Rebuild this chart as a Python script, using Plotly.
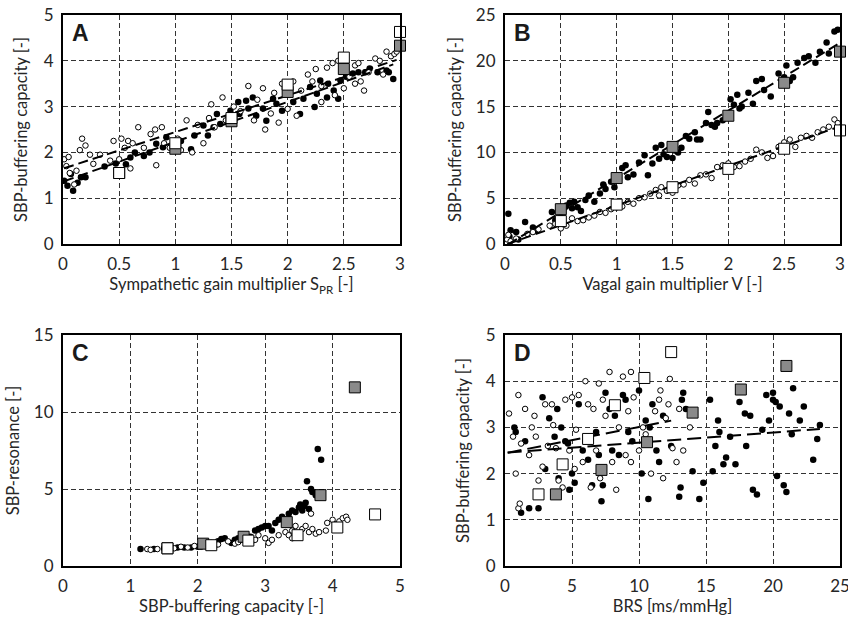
import numpy as np
import plotly.graph_objects as go

# ---- panel A: buffering capacity vs sympathetic gain ----
a_fill_x = [0.01, 0.04, 0.07, 0.09, 0.13, 0.16, 0.2, 0.37, 0.47, 0.56, 0.6, 0.64, 0.72, 0.77, 0.83, 0.89,
            0.92, 0.98, 1.05, 1.14, 1.17, 1.25, 1.29, 1.34, 1.37, 1.4, 1.49, 1.56, 1.57, 1.63, 1.65, 1.69,
            1.72, 1.78, 1.81, 1.87, 1.9, 1.95, 2.02, 2.05, 2.11, 2.14, 2.2, 2.24, 2.26, 2.29, 2.35, 2.36,
            2.41, 2.45, 2.47, 2.52, 2.58, 2.63, 2.69, 2.73, 2.8, 2.88, 2.9, 2.94]
a_fill_y = [1.38, 1.27, 1.53, 1.16, 1.34, 1.46, 1.46, 1.69, 1.76, 1.74, 1.89, 2.0, 1.92, 2.0, 2.19, 2.11,
            2.33, 2.07, 2.25, 2.07, 2.37, 2.59, 2.37, 2.55, 2.84, 2.62, 2.91, 3.1, 2.84, 3.13, 2.96, 3.2,
            2.8, 2.96, 2.69, 3.17, 3.06, 2.91, 3.31, 3.1, 2.84, 3.17, 3.43, 2.99, 3.28, 3.57, 3.2, 3.5,
            3.35, 3.17, 3.57, 3.65, 3.72, 3.75, 3.75, 3.83, 3.75, 3.79, 3.75, 3.6]
a_open_x = [0.01, 0.03, 0.05, 0.06, 0.1, 0.12, 0.15, 0.17, 0.2, 0.24, 0.27, 0.33, 0.42, 0.45, 0.5, 0.52,
            0.55, 0.58, 0.6, 0.62, 0.67, 0.72, 0.78, 0.82, 0.83, 0.88, 0.9, 0.95, 1.02, 1.05, 1.1, 1.15,
            1.2, 1.25, 1.3, 1.32, 1.35, 1.42, 1.45, 1.52, 1.58, 1.65, 1.7, 1.73, 1.78, 1.8, 1.85, 1.88,
            1.92, 1.95, 2.0, 2.05, 2.08, 2.12, 2.18, 2.22, 2.25, 2.3, 2.3, 2.35, 2.4, 2.42, 2.45, 2.5,
            2.55, 2.6, 2.6, 2.63, 2.65, 2.68, 2.72, 2.78, 2.82, 2.85, 2.88, 2.92, 2.95, 2.97]
a_open_y = [1.85, 1.7, 1.9, 1.55, 1.3, 1.6, 2.05, 2.3, 2.15, 1.95, 1.75, 1.95, 1.82, 2.25, 1.85, 2.3,
            2.1, 2.25, 1.65, 2.2, 2.55, 2.1, 2.4, 2.5, 1.72, 2.55, 2.2, 2.1, 2.3, 2.05, 2.7, 2.0,
            2.6, 2.2, 2.75, 3.05, 2.55, 3.2, 2.7, 3.0, 2.9, 3.45, 2.7, 3.15, 3.4, 2.5, 2.85, 3.3,
            2.65, 3.5, 2.95, 3.55, 2.8, 3.35, 3.7, 3.55, 3.82, 3.45, 3.1, 3.85, 3.95, 3.25, 4.0, 3.4,
            3.65, 3.5, 3.9, 3.95, 3.55, 3.35, 3.75, 4.05, 4.0, 3.7, 4.2, 4.1, 4.15, 4.2]
gain_levels = [0.5, 1.0, 1.5, 2.0, 2.5, 3.0]
a_sq_white = [1.55, 2.2, 2.75, 3.48, 4.07, 4.63]
a_sq_gray = [1.55, 2.08, 2.68, 3.32, 3.82, 4.33]

# ---- panel B: buffering capacity vs vagal gain ----
b_fill_x = [0.03, 0.05, 0.04, 0.1, 0.12, 0.18, 0.25, 0.28, 0.42, 0.45, 0.5, 0.55, 0.58, 0.6, 0.62, 0.65,
            0.68, 0.72, 0.75, 0.8, 0.85, 0.88, 0.9, 0.95, 0.98, 1.02, 1.05, 1.08, 1.1, 1.15, 1.2, 1.25,
            1.28, 1.32, 1.35, 1.38, 1.4, 1.42, 1.45, 1.5, 1.52, 1.55, 1.58, 1.62, 1.65, 1.7, 1.72, 1.75,
            1.8, 1.82, 1.85, 1.88, 1.9, 1.95, 1.98, 2.02, 2.05, 2.08, 2.1, 2.12, 2.18, 2.22, 2.25, 2.3,
            2.32, 2.38, 2.45, 2.5, 2.52, 2.55, 2.58, 2.62, 2.68, 2.72, 2.78, 2.82, 2.88, 2.9, 2.95, 2.98]
b_fill_y = [3.3, 1.5, 0.8, 1.3, 0.5, 2.4, 1.8, 1.5, 3.5, 2.6, 2.9, 4.2, 4.5, 3.9, 4.6, 4.0,
            3.6, 4.8, 5.3, 4.6, 5.5, 6.5, 6.0, 6.8, 6.2, 7.0, 8.3, 8.6, 7.3, 7.6, 8.9, 9.7,
            7.5, 8.8, 10.5, 9.3, 10.8, 9.8, 9.5, 9.4, 10.2, 10.0, 10.5, 11.8, 11.5, 12.2, 11.4, 11.4,
            13.2, 14.4, 13.0, 12.8, 13.2, 13.5, 14.0, 15.8, 15.2, 16.3, 14.8, 15.0, 16.5, 15.3, 17.8, 18.0,
            16.8, 16.1, 18.6, 18.2, 19.5, 17.8, 18.2, 19.8, 20.3, 20.5, 19.8, 21.0, 22.0, 20.8, 23.2, 23.4]
b_open_x = [0.02, 0.03, 0.05, 0.1, 0.2, 0.25, 0.3, 0.4, 0.45, 0.5, 0.55, 0.6, 0.65, 0.7, 0.75, 0.8,
            0.85, 0.9, 0.95, 1.0, 1.05, 1.1, 1.15, 1.2, 1.25, 1.3, 1.35, 1.38, 1.4, 1.45, 1.5, 1.55,
            1.6, 1.65, 1.7, 1.75, 1.8, 1.85, 1.9, 1.95, 2.0, 2.05, 2.1, 2.15, 2.2, 2.25, 2.3, 2.35,
            2.4, 2.45, 2.5, 2.55, 2.6, 2.65, 2.7, 2.75, 2.8, 2.85, 2.9, 2.95, 2.98]
b_open_y = [0.5, 1.0, 0.3, 0.6, 1.1, 1.3, 1.6, 2.0, 2.2, 1.7, 2.0, 2.8, 2.5, 2.6, 2.9, 3.1,
            3.5, 3.4, 3.8, 4.0, 4.1, 4.6, 4.4, 5.0, 5.1, 5.5, 5.9, 5.3, 6.2, 5.8, 5.6, 6.4,
            6.5, 7.0, 6.6, 7.5, 7.6, 7.2, 8.4, 8.6, 8.8, 8.4, 8.5, 9.0, 9.3, 10.3, 10.0, 9.4,
            9.6, 10.6, 11.1, 11.4, 10.6, 11.6, 11.8, 11.6, 12.2, 12.5, 12.8, 13.6, 13.2]
b_sq_white = [2.5, 4.3, 6.2, 8.2, 10.4, 12.4]
b_sq_gray = [3.8, 7.2, 10.6, 14.0, 17.6, 21.0]

# ---- panel C: resonance vs buffering capacity ----
c_fill_x = [1.15, 1.35, 1.5, 1.6, 1.7, 1.8, 1.9, 2.0, 2.1, 2.2, 2.3, 2.35, 2.4, 2.5, 2.55, 2.6,
            2.65, 2.7, 2.78, 2.85, 2.9, 2.95, 3.0, 3.05, 3.1, 3.15, 3.2, 3.25, 3.3, 3.35, 3.4, 3.45,
            3.5, 3.52, 3.55, 3.58, 3.6, 3.62, 3.65, 3.68, 3.7, 3.75, 3.78, 3.83]
c_fill_y = [1.1, 1.1, 1.15, 1.2, 1.2, 1.2, 1.2, 1.25, 1.35, 1.5, 1.6, 1.75, 1.8, 1.5, 1.7, 1.8,
            2.0, 2.0, 1.9, 2.3, 2.4, 2.5, 2.6, 2.6, 2.3, 2.8, 3.0, 3.2, 3.0, 3.4, 3.6, 3.5,
            3.8, 4.0, 3.6, 3.9, 4.1, 5.5, 3.7, 5.0, 4.8, 4.6, 7.6, 6.9]
c_open_x = [1.25, 1.3, 1.4, 1.55, 1.65, 1.75, 1.85, 1.95, 2.05, 2.15, 2.25, 2.3, 2.45, 2.55, 2.6, 2.65,
            2.75, 2.8, 2.85, 2.9, 3.0, 3.05, 3.1, 3.2, 3.3, 3.35, 3.4, 3.4, 3.45, 3.5, 3.55, 3.6,
            3.65, 3.68, 3.7, 3.75, 3.8, 3.9, 3.92, 4.0, 4.05, 4.1, 4.15, 4.2, 4.22]
c_open_y = [1.1, 1.05, 1.1, 1.2, 1.15, 1.25, 1.2, 1.3, 1.25, 1.4, 1.3, 1.4, 1.6, 1.45, 1.55, 1.7,
            1.8, 1.6, 1.7, 2.0, 1.8, 1.5, 1.7, 2.0, 2.2, 2.0, 2.3, 1.8, 2.6, 1.9, 2.4, 2.6,
            2.2, 3.4, 2.4, 2.1, 2.2, 2.3, 2.8, 3.0, 2.7, 2.9, 3.1, 3.2, 3.0]
c_sq_white_res = [1.15, 1.35, 1.65, 2.0, 2.5, 3.35]
c_sq_gray_res = [1.15, 1.45, 1.9, 2.85, 4.6, 11.6]

# ---- panel D: buffering capacity vs BRS ----
d_fill_x = [0.7, 0.8, 1.2, 1.5, 1.8, 2.5, 2.8, 3.0, 3.3, 3.7, 3.9, 4.0, 4.2, 4.5, 4.7, 4.8,
            5.0, 5.2, 5.5, 5.8, 6.0, 6.2, 6.5, 6.8, 7.0, 7.2, 7.3, 7.5, 7.8, 8.0, 8.2, 8.5,
            8.8, 9.0, 9.2, 9.5, 10.0, 10.2, 10.5, 10.7, 10.8, 11.0, 11.3, 11.5, 11.8, 12.4, 13.0, 13.1,
            13.2, 13.3, 13.5, 14.0, 14.5, 14.8, 15.3, 15.5, 15.7, 15.9, 16.0, 16.3, 16.5, 16.8, 17.2, 17.5,
            17.9, 18.0, 18.3, 18.5, 18.8, 19.2, 19.5, 19.7, 20.0, 20.0, 20.2, 20.3, 20.5, 20.8, 21.0, 21.2,
            21.4, 21.5, 22.0, 22.3, 23.0, 23.3, 23.5]
d_fill_y = [3.0, 2.9, 1.15, 2.7, 1.25, 1.25, 3.65, 2.1, 3.2, 2.8, 3.4, 1.9, 3.0, 2.7, 2.65, 1.65,
            2.0, 1.8, 3.5, 2.5, 2.7, 2.3, 1.75, 2.9, 2.4, 1.4, 1.75, 3.75, 3.4, 2.5, 3.25, 2.4,
            3.7, 3.6, 2.9, 2.7, 3.8, 2.0, 3.15, 1.45, 3.0, 3.5, 2.5, 2.25, 3.25, 2.6, 1.5, 1.7,
            3.6, 3.75, 3.4, 2.05, 1.45, 1.8, 3.6, 2.05, 2.6, 3.15, 2.9, 2.2, 2.35, 2.8, 2.2, 3.55,
            3.3, 2.6, 3.25, 1.65, 1.55, 2.95, 3.7, 3.15, 3.6, 3.75, 3.55, 1.95, 3.45, 1.75, 1.6, 3.3,
            2.85, 3.85, 3.15, 3.45, 2.3, 2.75, 3.05]
d_open_x = [0.3, 0.6, 0.8, 1.0, 1.0, 1.1, 1.2, 1.5, 1.8, 2.0, 2.2, 2.3, 2.5, 2.8, 3.0, 3.2,
            3.5, 3.6, 3.8, 4.0, 4.3, 4.5, 4.8, 5.0, 5.2, 5.3, 5.5, 5.8, 6.0, 6.2, 6.4, 6.6,
            6.8, 7.0, 7.1, 7.3, 7.5, 7.8, 8.0, 8.3, 8.5, 8.8, 9.0, 9.2, 9.4, 9.4, 9.6, 10.0,
            10.3, 10.5, 10.9, 11.2, 11.5, 11.6, 11.8, 12.0, 12.2, 12.3, 12.5, 12.8, 13.0, 13.3, 13.8]
d_open_y = [3.3, 2.8, 2.0, 3.7, 1.25, 1.35, 2.65, 3.4, 2.4, 3.0, 3.25, 2.8, 1.85, 2.15, 3.5, 2.6,
            3.5, 3.05, 2.55, 1.85, 1.7, 3.6, 2.5, 3.65, 2.1, 2.95, 3.7, 2.25, 4.0, 3.5, 1.7, 3.4,
            2.5, 3.95, 1.9, 3.6, 3.25, 4.2, 2.25, 1.65, 3.0, 4.1, 2.4, 3.35, 2.25, 4.2, 3.65, 2.5,
            3.0, 2.85, 2.0, 3.35, 3.6, 3.8, 1.9, 3.2, 3.5, 4.05, 2.55, 2.25, 3.4, 2.5, 3.0]
# regression lines in D: intercept, slope
d_fit_open = [2.44, 0.057]
d_fit_fill = [2.45, 0.022]

FONT = "Lato, 'Open Sans', sans-serif"
TXT = "#262626"
GRAY = "#8a8a8a"

W, H = 848, 621


def px_x(p):
    return p / W


def px_y(p):
    return 1 - p / H


fig = go.Figure()


def add_points(xs, ys, filled, ax):
    xa, ya = ax
    if filled:
        mk = dict(symbol="circle", size=6.5, color="black", line=dict(width=0))
    else:
        mk = dict(symbol="circle", size=5.5, color="white", line=dict(color="black", width=1))
    fig.add_trace(go.Scatter(x=xs, y=ys, mode="markers", marker=mk, xaxis=xa, yaxis=ya,
                             showlegend=False, hoverinfo="skip"))


def add_line(xx, yy, ax, dash):
    xa, ya = ax
    fig.add_trace(go.Scatter(x=xx, y=yy, mode="lines", xaxis=xa, yaxis=ya,
                             line=dict(color="black", width=2, dash=dash),
                             showlegend=False, hoverinfo="skip"))


def add_fit(xs, ys, ax, dash="10px,5px"):
    k, b = np.polyfit(xs, ys, 1)
    xx = np.array([min(xs), max(xs)])
    add_line(xx, k * xx + b, ax, dash)


def add_squares(xs, ys, color, ax):
    xa, ya = ax
    fig.add_trace(go.Scatter(x=xs, y=ys, mode="markers", xaxis=xa, yaxis=ya, cliponaxis=False,
                             marker=dict(symbol="square", size=11, color=color,
                                         line=dict(color="black", width=1)),
                             showlegend=False, hoverinfo="skip"))


AX = {"A": ("x", "y"), "B": ("x2", "y2"), "C": ("x3", "y3"), "D": ("x4", "y4")}

add_points(a_fill_x, a_fill_y, True, AX["A"])
add_points(a_open_x, a_open_y, False, AX["A"])
add_fit(a_open_x, a_open_y, AX["A"])
add_fit(a_fill_x, a_fill_y, AX["A"])
add_squares(gain_levels, a_sq_gray, GRAY, AX["A"])
add_squares(gain_levels, a_sq_white, "white", AX["A"])

add_points(b_fill_x, b_fill_y, True, AX["B"])
add_points(b_open_x, b_open_y, False, AX["B"])
add_fit(b_open_x, b_open_y, AX["B"])
add_fit(b_fill_x, b_fill_y, AX["B"])
add_squares(gain_levels, b_sq_gray, GRAY, AX["B"])
add_squares(gain_levels, b_sq_white, "white", AX["B"])

add_points(c_fill_x, c_fill_y, True, AX["C"])
add_points(c_open_x, c_open_y, False, AX["C"])
add_squares(a_sq_gray, c_sq_gray_res, GRAY, AX["C"])
add_squares(a_sq_white, c_sq_white_res, "white", AX["C"])

add_points(d_fill_x, d_fill_y, True, AX["D"])
add_points(d_open_x, d_open_y, False, AX["D"])
xo = np.array([0.2, max(d_open_x) - 1.4])
add_line(xo, d_fit_open[0] + d_fit_open[1] * xo, AX["D"], "14px,6px")
xf = np.array([0.2, max(d_fill_x)])
add_line(xf, d_fit_fill[0] + d_fit_fill[1] * xf, AX["D"], "14px,6px")
add_squares(b_sq_gray, a_sq_gray, GRAY, AX["D"])
add_squares(b_sq_white, a_sq_white, "white", AX["D"])


def axis(domain, rng, dtick, title, anchor, standoff):
    return dict(domain=domain, range=rng, dtick=dtick, anchor=anchor, automargin=False,
                showline=True, mirror=True, linecolor="black", linewidth=2,
                showgrid=True, gridcolor="#333333", gridwidth=1, griddash="5px,3px",
                zeroline=False, ticks="", ticklabelstandoff=4, ticklabeloverflow="allow",
                tickfont=dict(size=17, color=TXT, family=FONT),
                title=dict(text=title, font=dict(size=16.5, color=TXT, family=FONT), standoff=standoff))


xl = [px_x(63), px_x(400)]
xr = [px_x(505), px_x(840)]
yt = [px_y(244), px_y(15)]
yb = [px_y(566), px_y(335)]

fig.update_layout(
    width=W, height=H, margin=dict(l=0, r=0, t=0, b=0),
    paper_bgcolor="white", plot_bgcolor="white", font=dict(family=FONT, color=TXT),
    xaxis=axis(xl, [0, 3], 0.5, "Sympathetic gain multiplier S<sub>PR</sub> [-]", "y", 4),
    yaxis=axis(yt, [0, 5], 1, "SBP-buffering capacity [-]", "x", 12),
    xaxis2=axis(xr, [0, 3], 0.5, "Vagal gain multiplier V [-]", "y2", 4),
    yaxis2=axis(yt, [0, 25], 5, "SBP-buffering capacity [-]", "x2", 10),
    xaxis3=axis(xl, [0, 5], 1, "SBP-buffering capacity [-]", "y3", 4),
    yaxis3=axis(yb, [0, 15], 5, "SBP-resonance [-]", "x3", 10),
    xaxis4=axis(xr, [0, 25], 5, "BRS [ms/mmHg]", "y4", 4),
    yaxis4=axis(yb, [0, 5], 1, "SBP-buffering capacity [-]", "x4", 12),
)

for letter, (xa, ya) in AX.items():
    fig.add_annotation(text="<b>%s</b>" % letter, xref=xa + " domain", yref=ya + " domain",
                       x=0.02, y=0.985, xanchor="left", yanchor="top", showarrow=False,
                       font=dict(size=23, color="#1a1a1a", family="Arial, 'Liberation Sans', sans-serif"))

# drop the page's default body margin so the 848x621 figure fills the window
fig.write_html("out.html", config={"displayModeBar": False},
               post_script="document.body.style.margin = '0';")
